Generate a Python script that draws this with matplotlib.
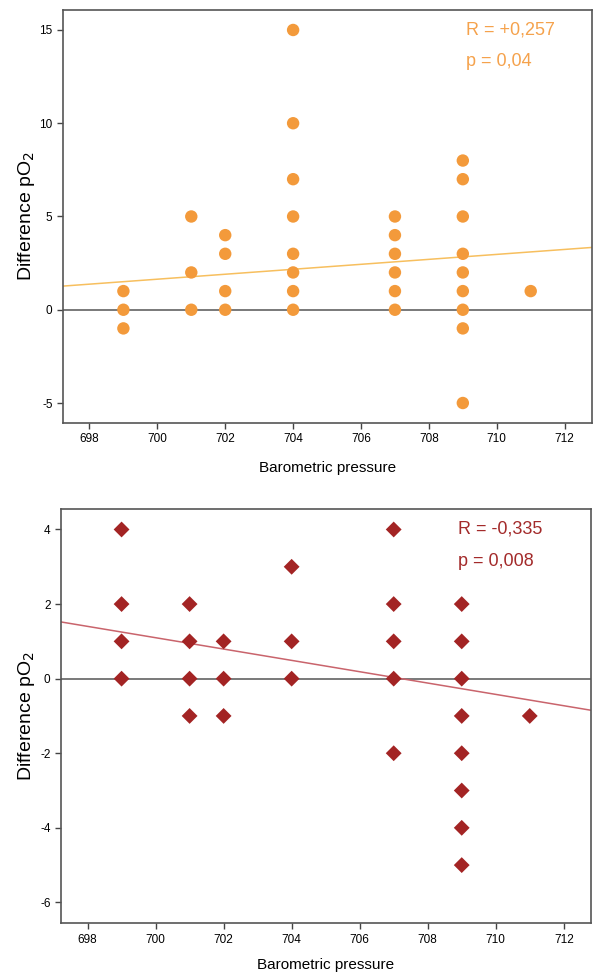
import numpy as np
import matplotlib.pyplot as plt

plt.rcParams['font.family'] = ['Liberation Sans', 'DejaVu Sans']
plt.rcParams['axes.unicode_minus'] = False

# upper panel: circles
x_top = [699, 699, 699,
         701, 701, 701,
         702, 702, 702, 702,
         704, 704, 704, 704, 704, 704, 704, 704,
         707, 707, 707, 707, 707, 707,
         709, 709, 709, 709, 709, 709, 709, 709, 709,
         711]
y_top = [1, 0, -1,
         5, 2, 0,
         4, 3, 1, 0,
         15, 10, 7, 5, 3, 2, 1, 0,
         5, 4, 3, 2, 1, 0,
         8, 7, 5, 3, 2, 1, 0, -1, -5,
         1]
fit_top = (0.133, 2.17)  # slope, value at 704

# lower panel: diamonds
x_bot = [699, 699, 699, 699,
         701, 701, 701, 701,
         702, 702, 702,
         704, 704, 704,
         707, 707, 707, 707, 707,
         709, 709, 709, 709, 709, 709, 709, 709,
         711]
y_bot = [4, 2, 1, 0,
         2, 1, 0, -1,
         1, 0, -1,
         3, 1, 0,
         4, 2, 1, 0, -2,
         2, 1, 0, -1, -2, -3, -4, -5,
         -1]
fit_bot = (-0.152, 0.49)

xticks = [698, 700, 702, 704, 706, 708, 710, 712]
xlim = (697.22, 712.8)

fig = plt.figure(figsize=(5.93, 9.73), dpi=100)
ax1 = fig.add_axes([0.1062, 0.5653, 0.8918, 0.4244])
ax2 = fig.add_axes([0.1029, 0.0511, 0.8937, 0.4258])


def style(ax, yticks, ylim, xpad):
    ax.set_xlim(*xlim)
    ax.set_ylim(*ylim)
    ax.set_xticks(xticks)
    ax.set_yticks(yticks)
    ax.tick_params(axis='both', labelsize=8.5, length=4, width=1, color='#444444', direction='out')
    for s in ax.spines.values():
        s.set_color('#555555')
        s.set_linewidth(1.2)
    ax.axhline(0, color='#555555', linewidth=1.1, zorder=1)
    ax.set_xlabel('Barometric pressure', fontsize=11, labelpad=xpad)
    ax.set_ylabel('Difference pO$_2$', fontsize=14, labelpad=2)


xs = np.array(xlim)

# top
style(ax1, [-5, 0, 5, 10, 15], (-6.07, 16.07), 11)
ax1.plot(xs, fit_top[1] + fit_top[0] * (xs - 704), color='#f7bf5e', linewidth=1.1, zorder=2)
ax1.scatter(x_top, y_top, s=80, color='#f39a3b', edgecolors='none', zorder=3)
ax1.text(709.1, 15, 'R = +0,257', color='#f5a24c', fontsize=13, va='center')
ax1.text(709.1, 13.3, 'p = 0,04', color='#f5a24c', fontsize=13, va='center')

# bottom
style(ax2, [-6, -4, -2, 0, 2, 4], (-6.56, 4.55), 9)
ax2.plot(xs, fit_bot[1] + fit_bot[0] * (xs - 704), color='#c9646c', linewidth=1.1, zorder=2)
ax2.scatter(x_bot, y_bot, s=65, marker='D', color='#a32424', edgecolors='none', zorder=3)
ax2.text(708.9, 4.0, 'R = -0,335', color='#a32a2a', fontsize=13, va='center')
ax2.text(708.9, 3.13, 'p = 0,008', color='#a32a2a', fontsize=13, va='center')

fig.savefig('out.png', dpi=100)
